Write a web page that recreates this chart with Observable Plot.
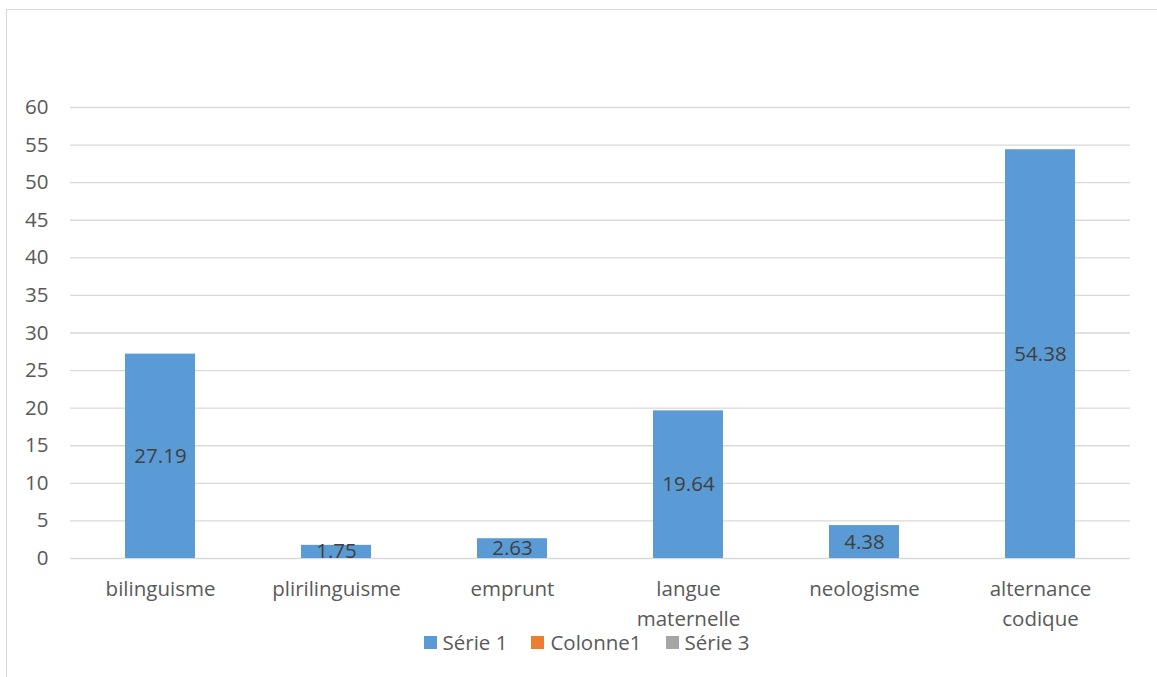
<!DOCTYPE html>
<html>
<head>
<meta charset="utf-8">
<script src="https://cdn.jsdelivr.net/npm/d3@7"></script>
<script src="https://cdn.jsdelivr.net/npm/@observablehq/plot@0.6"></script>
<style>
  html, body { margin: 0; padding: 0; background: #fff; }
  body { position: relative; width: 1157px; height: 677px; overflow: hidden; font-family: "Open Sans", sans-serif; }
  #frame { position: absolute; left: 6px; top: 9px; right: -2px; bottom: -2px; z-index: 5;
           border-top: 1.5px solid #d9d9d9; border-left: 1.5px solid #d9d9d9; pointer-events: none; }
  #chart { position: relative; }
  #chart svg { display: block; }
  #legend { position: relative; display: flex; justify-content: center; align-items: center;
            height: 24px; margin-top: -10px; padding-left: 16px; font-size: 20.5px; line-height: 1; color: #595959; }
  .item { display: flex; align-items: center; margin: 0 12px; }
  .swatch { width: 13px; height: 13px; margin-right: 6px; }
</style>
</head>
<body>
<div id="frame"></div>
<div id="chart"></div>
<div id="legend"></div>
<script>
// Categories and the values of the first series
const categories = ["bilinguisme", "plirilinguisme", "emprunt", "langue maternelle", "neologisme", "alternance codique"];
const serie1 = [27.19, 1.75, 2.63, 19.64, 4.38, 54.38];

// Legend entries (only the first series carries values)
const legendLabels = ["Série 1", "Colonne1", "Série 3"];
const legendColors = ["#5B9BD5", "#ED7D31", "#A5A5A5"];

// Y-axis ticks
const yTicks = [0, 5, 10, 15, 20, 25, 30, 35, 40, 45, 50, 55, 60];

const data = categories.map((c, i) => ({category: c, value: serie1[i]}));

const chart = Plot.plot({
  width: 1157,
  height: 640,
  marginTop: 107,
  marginBottom: 82,
  marginLeft: 70,
  marginRight: 27,
  style: {fontFamily: "Open Sans, sans-serif", fontSize: "20.5px", color: "#595959", background: "transparent"},
  x: {domain: categories, paddingInner: 0.6, paddingOuter: 0.3, label: null},
  y: {domain: [0, 60], label: null},
  marks: [
    Plot.gridY(yTicks, {stroke: "#d9d9d9", strokeOpacity: 1, strokeWidth: 1.3}),
    Plot.barY(data, {x: "category", y: "value", fill: legendColors[0]}),
    Plot.text(data, {
      x: "category",
      y: d => d.value / 2,
      text: d => d.value.toFixed(2),
      fill: "#404040",
      fontSize: 20.5
    }),
    Plot.axisY(yTicks, {tickSize: 0, tickPadding: 22, label: null, fill: "#595959"}),
    Plot.axisX({
      tickSize: 0,
      tickPadding: 16,
      label: null,
      lineHeight: 1.46,
      fill: "#595959",
      tickFormat: d => d.replace(" ", "\n")
    })
  ]
});
document.getElementById("chart").appendChild(chart);

const legend = document.getElementById("legend");
legendLabels.forEach((label, i) => {
  const item = document.createElement("div");
  item.className = "item";
  const sw = document.createElement("span");
  sw.className = "swatch";
  sw.style.background = legendColors[i];
  const tx = document.createElement("span");
  tx.textContent = label;
  item.appendChild(sw);
  item.appendChild(tx);
  legend.appendChild(item);
});
</script>
</body>
</html>
